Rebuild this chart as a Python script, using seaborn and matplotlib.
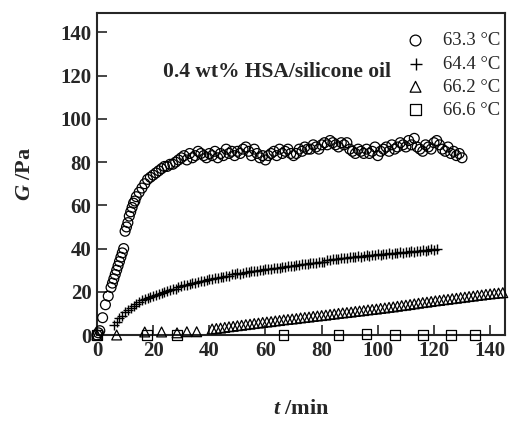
import matplotlib
matplotlib.use("Agg")
import matplotlib.pyplot as plt
import seaborn as sns
import pandas as pd

# ---------------- data ----------------
t_633 = [0, 0.5, 1, 2, 3, 4, 5, 5.5, 6, 6.5, 7, 7.5, 8, 8.5, 9, 9.5, 10, 10.5, 11, 11.5,
         12, 12.5, 13, 13.5, 14, 15, 16, 17, 18, 19, 20, 21, 22, 23, 24, 25, 26, 27, 28, 29] + list(range(30, 131))
G_633 = [0, 1, 2, 8, 14, 18, 22, 24, 26, 28, 30, 32, 34, 36, 38, 40, 48, 50, 52, 55,
         57, 59, 61, 62, 64, 66, 68, 70, 72, 73, 74, 75, 76, 77, 78, 78, 79, 79, 80, 81,
         82, 83, 81, 84, 82, 83, 85, 84, 83, 82,
         84, 83, 85, 82, 84, 83, 86, 84, 85, 83,
         85, 84, 86, 87, 85, 83, 86, 84, 82, 83,
         81, 83, 84, 85, 83, 86, 84, 85, 86, 84,
         83, 84, 86, 85, 87, 86, 86, 88, 87, 86,
         88, 89, 88, 90, 89, 88, 87, 89, 88, 89,
         86, 85, 84, 86, 85, 84, 86, 84, 85, 87,
         83, 85, 86, 87, 85, 88, 86, 87, 89, 88,
         87, 90, 88, 91, 87, 86, 85, 88, 87, 86,
         89, 90, 88, 86, 85, 87, 84, 85, 83, 84, 82]

t_644 = list(range(6, 122))
G_644 = [4.6, 6, 8, 9, 10.5, 11.5, 12.5, 13.5, 14.5, 15.5, 16, 16.5, 17, 17.5, 18, 18.5,
         19, 19.5, 20, 20.5, 21, 21.5, 21.5, 22, 22.5, 23, 23, 23.5, 24, 24, 24.5, 25,
         25, 25.5, 26, 26, 26.5, 26.5, 27, 27, 27.5, 27.5, 28, 28, 28.5, 28, 28.5, 29,
         29, 29.5, 29.5, 29.5, 30, 30, 30.5, 30.5, 30.5, 31, 31, 31, 31.5, 31.5, 32, 32,
         32, 32.5, 32.5, 33, 33, 33, 33.5, 33.5, 33.5, 34, 34, 34, 34.5, 34.5, 35, 35,
         35, 35.5, 35.5, 35.5, 36, 36, 36, 36.5, 36, 36.5, 37, 36.5, 37, 37, 37.5, 37,
         37.5, 37.5, 38, 37.5, 38, 38, 38.5, 38, 38.5, 38.5, 39, 38.5, 39, 39, 39.5, 39,
         39.5, 40, 39.5, 40]

t_662 = [0, 7, 17, 23, 28.5, 32, 35.5,
         41, 42.5, 44, 45.5, 47, 48.5, 50, 51.5, 53, 54.5, 56, 57.5, 59, 60.5, 62, 63.5,
         65, 66.5, 68, 69.5, 71, 72.5, 74, 75.5, 77, 78.5, 80, 81.5, 83, 84.5, 86, 87.5,
         89, 90.5, 92, 93.5, 95, 96.5, 98, 99.5, 101, 102.5, 104, 105.5, 107, 108.5, 110,
         111.5, 113, 114.5, 116, 117.5, 119, 120.5, 122, 123.5, 125, 126.5, 128, 129.5,
         131, 132.5, 134, 135.5, 137, 138.5, 140, 141.5, 143, 144.5]
G_662 = [0, 0, 1.4, 1.4, 1, 1.5, 1.5,
         2.8, 3, 3.2, 3.5, 3.8, 4, 4.3, 4.5, 4.8, 5, 5.3, 5.5, 5.8, 6, 6.2, 6.5,
         6.7, 7, 7.2, 7.4, 7.6, 7.9, 8.1, 8.3, 8.6, 8.8, 9, 9.2, 9.5, 9.7, 10, 10.2,
         10.4, 10.6, 10.9, 11.1, 11.3, 11.6, 11.8, 12, 12.3, 12.5, 12.8, 13, 13.3, 13.6, 13.8,
         14.1, 14.4, 14.7, 15, 15.2, 15.5, 15.8, 16, 16.3, 16.5, 16.8, 17, 17.3,
         17.5, 17.8, 18, 18.3, 18.5, 18.8, 19, 19.2, 19.4, 19.6]

t_666 = [0, 17.7, 28.4, 66.4, 86, 96, 106, 116, 126, 134.7]
G_666 = [0, 0, 0, 0, 0, 0.5, 0, 0, 0, 0]

labels = ["63.3 °C", "64.4 °C", "66.2 °C", "66.6 °C"]
x_ticks = [0, 20, 40, 60, 80, 100, 120, 140]
y_ticks = [0, 20, 40, 60, 80, 100, 120, 140]

# ---------------- style ----------------
sns.set_style("ticks")
plt.rcParams["font.family"] = ["Liberation Serif", "DejaVu Serif"]
plt.rcParams["mathtext.fontset"] = "custom"
plt.rcParams["mathtext.it"] = "Liberation Serif:italic:bold"
plt.rcParams["mathtext.rm"] = "Liberation Serif:bold"

fig = plt.figure(figsize=(5.12, 4.23), dpi=100)
ax = fig.add_axes([97 / 512, 1 - 335 / 423, (505 - 97) / 512, (335 - 13) / 423])

series = [
    (t_633, G_633, "o", labels[0]),
    (t_644, G_644, "+", labels[1]),
    (t_662, G_662, "^", labels[2]),
    (t_666, G_666, "s", labels[3]),
]
for t, g, m, lab in series:
    df = pd.DataFrame({"t": t, "G": g})
    if m == "+":
        sns.scatterplot(data=df, x="t", y="G", marker=m, s=60, color="black",
                        linewidth=1.0, label=lab, ax=ax, clip_on=False, zorder=3)
    else:
        sns.scatterplot(data=df, x="t", y="G", marker=m, s=50, facecolor="none",
                        edgecolor="black", linewidth=0.9, label=lab, ax=ax,
                        clip_on=False, zorder=3)

ax.set_xlim(0, 145.3)
ax.set_ylim(0, 149)
ax.set_xticks(x_ticks)
ax.set_yticks(y_ticks)
ax.tick_params(direction="in", length=7, width=1.2, labelsize=15, pad=4)
for lab in ax.get_xticklabels() + ax.get_yticklabels():
    lab.set_fontweight("bold")
for sp in ax.spines.values():
    sp.set_visible(True)
    sp.set_linewidth(1.5)

ax.set_xlabel("$t$ /min", fontsize=16, fontweight="bold", labelpad=28)
ax.set_ylabel("$G$ /Pa", fontsize=16, fontweight="bold", labelpad=18)

ax.text(0.162, 0.817, "0.4 wt% HSA/silicone oil", transform=ax.transAxes,
        fontsize=15.5, fontweight="bold", ha="left", va="center")

leg = ax.legend(loc="upper right", bbox_to_anchor=(0.988, 0.94), frameon=False,
                fontsize=13.5, handletextpad=0.95, labelspacing=0.32, handlelength=1.0,
                borderpad=0, borderaxespad=0, markerscale=1.1)

fig.savefig("out.png", dpi=100)
